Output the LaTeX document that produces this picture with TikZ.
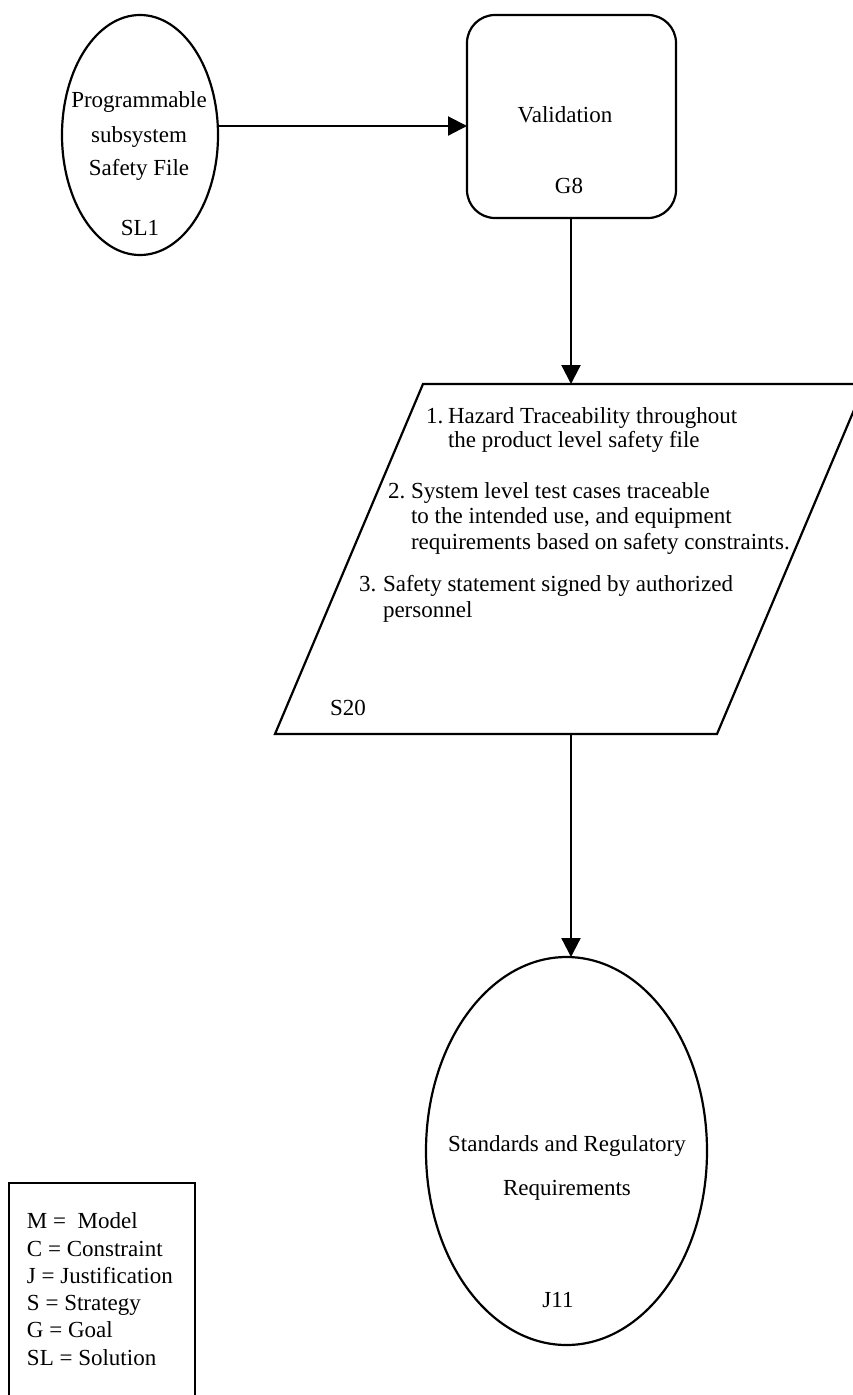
\documentclass[tikz,border=0pt]{standalone}
\usepackage{fontspec}
\setmainfont{Liberation Serif}
\usetikzlibrary{arrows.meta,shapes.geometric}
\begin{document}
\begin{tikzpicture}[x=1pt,y=-1pt,
  line width=2.2pt,
  every node/.style={font=\fontsize{23}{25}\selectfont, inner sep=0pt, outer sep=0pt},
  txt/.style={anchor=base},
  txtw/.style={anchor=base west},
  conn/.style={-{Triangle[length=19pt,width=19pt]}},
  ell/.style={draw, ellipse, line width=2.2pt},
  goalbox/.style={draw, rounded corners=28pt, line width=2.2pt}]
\useasboundingbox (0,0) rectangle (853,1395);
\fill[white] (0,0) rectangle (853,1395);

% SL1
\node[ell, minimum width=156pt, minimum height=240pt] (sl1) at (140,135) {};
\node[txt] (sl1a) at (139,107) {Programmable};
\node[txt] (sl1b) at (139,142) {subsystem};
\node[txt] (sl1c) at (139,175) {Safety File};
\node[txt] (sl1d) at (140,235) {SL1};

% G8
\node[goalbox, minimum width=209pt, minimum height=203pt] (g8) at (571.5,116.5) {};
\node[txt] (g8a) at (565,122) {Validation};
\node[txt] (g8b) at (569,193) {G8};

% arrow SL1 -> G8
\coordinate (a1) at (218,126);
\draw[conn] (a1) -- (g8.west |- a1);

% S20 parallelogram
\coordinate (p1) at (423,384);
\coordinate (p2) at (865,384);
\coordinate (p3) at (717,734);
\coordinate (p4) at (275,734);
\draw[line join=miter] (p1) -- (p2) -- (p3) -- (p4) -- cycle;
\coordinate (s20top) at (571,384);
\coordinate (s20bot) at (571,734);
\node[txtw] (t1) at (426,423) {1.};
\node[txtw] (t1a) at (448,423) {Hazard Traceability throughout};
\node[txtw] (t1b) at (448,447) {the product level safety file};
\node[txtw] (t2) at (388,498) {2.};
\node[txtw] (t2a) at (411,498) {System level test cases traceable};
\node[txtw] (t2b) at (411,523) {to the intended use, and equipment};
\node[txtw] (t2c) at (411,549) {requirements based on safety constraints.};
\node[txtw] (t3) at (359,591) {3.};
\node[txtw] (t3a) at (383,591) {Safety statement signed by authorized};
\node[txtw] (t3b) at (383,617) {personnel};
\node[txtw] (s20) at (330,715) {S20};

\draw[conn] (g8.south -| s20top) -- (s20top);

% J11
\node[ell, minimum width=281pt, minimum height=388pt] (j11) at (566.5,1151) {};
\node[txt] (j11a) at (567,1151) {Standards and Regulatory};
\node[txt] (j11b) at (567,1195) {Requirements};
\node[txt] (j11c) at (558,1307) {J11};

\draw[conn] (s20bot) -- (s20bot |- j11.north);

% legend
\draw (9,1400) -- (9,1183) -- (195,1183) -- (195,1400);
\node[txtw] (l1) at (27,1228) {M =\ \ Model};
\node[txtw] (l2) at (27,1256) {C = Constraint};
\node[txtw] (l3) at (27,1283) {J = Justification};
\node[txtw] (l4) at (27,1310) {S = Strategy};
\node[txtw] (l5) at (27,1337) {G = Goal};
\node[txtw] (l6) at (27,1365) {SL = Solution};
\end{tikzpicture}
\end{document}
